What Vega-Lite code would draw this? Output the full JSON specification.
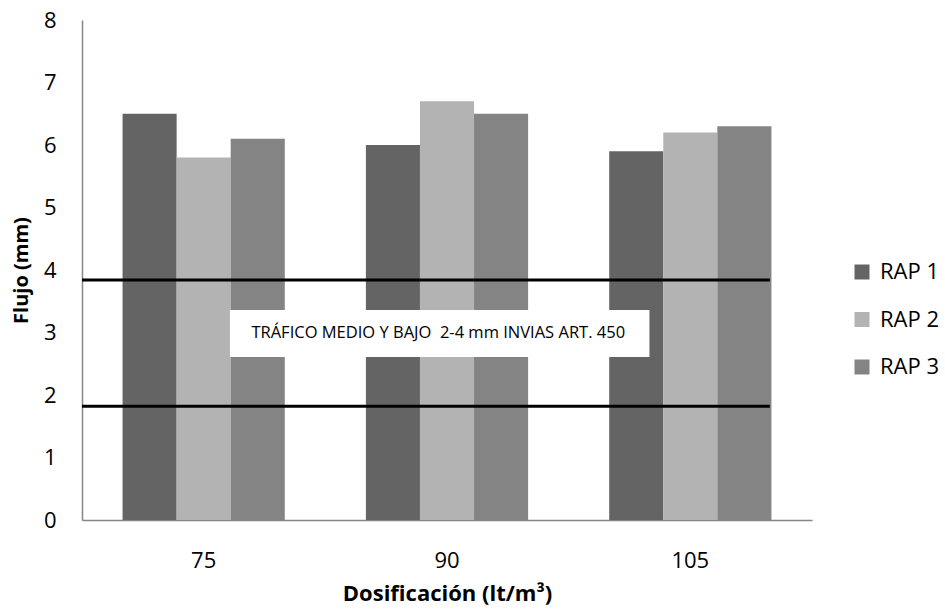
{
  "$schema": "https://vega.github.io/schema/vega-lite/v6.json",
  "width": 730,
  "height": 500,
  "padding": {"left": 82, "top": 20, "right": 133, "bottom": 91},
  "autosize": {"type": "none"},
  "background": "white",
  "config": {
    "view": {"stroke": null},
    "font": "Open Sans"
  },
  "datasets": {
    "flujo": [
      {"dosificacion": "75", "serie": "RAP 1", "flujo": 6.5},
      {"dosificacion": "75", "serie": "RAP 2", "flujo": 5.8},
      {"dosificacion": "75", "serie": "RAP 3", "flujo": 6.1},
      {"dosificacion": "90", "serie": "RAP 1", "flujo": 6.0},
      {"dosificacion": "90", "serie": "RAP 2", "flujo": 6.7},
      {"dosificacion": "90", "serie": "RAP 3", "flujo": 6.5},
      {"dosificacion": "105", "serie": "RAP 1", "flujo": 5.9},
      {"dosificacion": "105", "serie": "RAP 2", "flujo": 6.2},
      {"dosificacion": "105", "serie": "RAP 3", "flujo": 6.3}
    ],
    "limites": [
      {"limite": "superior", "flujo": 3.84},
      {"limite": "inferior", "flujo": 1.82}
    ],
    "nota": [
      {"texto": "TRÁFICO MEDIO Y BAJO\u00a0 2-4 mm INVIAS ART. 450", "y0": 2.61, "y1": 3.36, "yc": 2.99}
    ]
  },
  "layer": [
    {
      "data": {"name": "flujo"},
      "mark": {"type": "bar"},
      "encoding": {
        "x": {
          "field": "dosificacion",
          "type": "nominal",
          "sort": ["75", "90", "105"],
          "scale": {"paddingInner": 0.3333, "paddingOuter": 0.1667},
          "axis": {
            "title": "Dosificación (lt/m³)",
            "titleFontSize": 22,
            "titleFontWeight": "bold",
            "titleColor": "#000000",
            "titlePadding": 12,
            "labelAngle": 0,
            "labelFontSize": 22,
            "labelColor": "#000000",
            "labelPadding": 30,
            "ticks": false,
            "domainColor": "#868686",
            "domainWidth": 1.5
          }
        },
        "xOffset": {"field": "serie", "type": "nominal", "scale": {"paddingInner": 0, "paddingOuter": 0}},
        "y": {
          "field": "flujo",
          "type": "quantitative",
          "scale": {"domain": [0, 8], "nice": false},
          "axis": {
            "title": "Flujo (mm)",
            "titleFontSize": 20,
            "titleFontWeight": "bold",
            "titleColor": "#000000",
            "titlePadding": 12,
            "values": [0, 1, 2, 3, 4, 5, 6, 7, 8],
            "format": "d",
            "labelOverlap": false,
            "labelFontSize": 22,
            "labelColor": "#000000",
            "labelPadding": 26,
            "ticks": false,
            "grid": false,
            "domainColor": "#868686",
            "domainWidth": 1.5
          }
        },
        "color": {
          "field": "serie",
          "type": "nominal",
          "scale": {"domain": ["RAP 1", "RAP 2", "RAP 3"], "range": ["#646464", "#b3b3b3", "#848484"]},
          "legend": {
            "title": null,
            "orient": "none",
            "legendX": 769,
            "legendY": 241,
            "symbolType": "square",
            "symbolSize": 225,
            "symbolStrokeWidth": 0,
            "labelFontSize": 22,
            "labelColor": "#000000",
            "labelOffset": 7,
            "rowPadding": 25.5
          }
        }
      }
    },
    {
      "data": {"name": "limites"},
      "mark": {"type": "rule", "color": "#000000", "strokeWidth": 2.8},
      "encoding": {
        "y": {"field": "flujo", "type": "quantitative"},
        "x": {"datum": "75", "bandPosition": -0.25},
        "x2": {"datum": "105", "bandPosition": 0.99}
      }
    },
    {
      "data": {"name": "nota"},
      "mark": {"type": "rect", "color": "#ffffff"},
      "encoding": {
        "y": {"field": "y0", "type": "quantitative"},
        "y2": {"field": "y1"},
        "x": {"datum": "90", "bandPosition": -0.838},
        "x2": {"datum": "90", "bandPosition": 1.748}
      }
    },
    {
      "data": {"name": "nota"},
      "mark": {"type": "text", "color": "#000000", "fontSize": 16.5, "align": "center", "baseline": "middle"},
      "encoding": {
        "y": {"field": "yc", "type": "quantitative"},
        "x": {"datum": "90", "bandPosition": 0.446},
        "text": {"field": "texto"}
      }
    }
  ]
}
